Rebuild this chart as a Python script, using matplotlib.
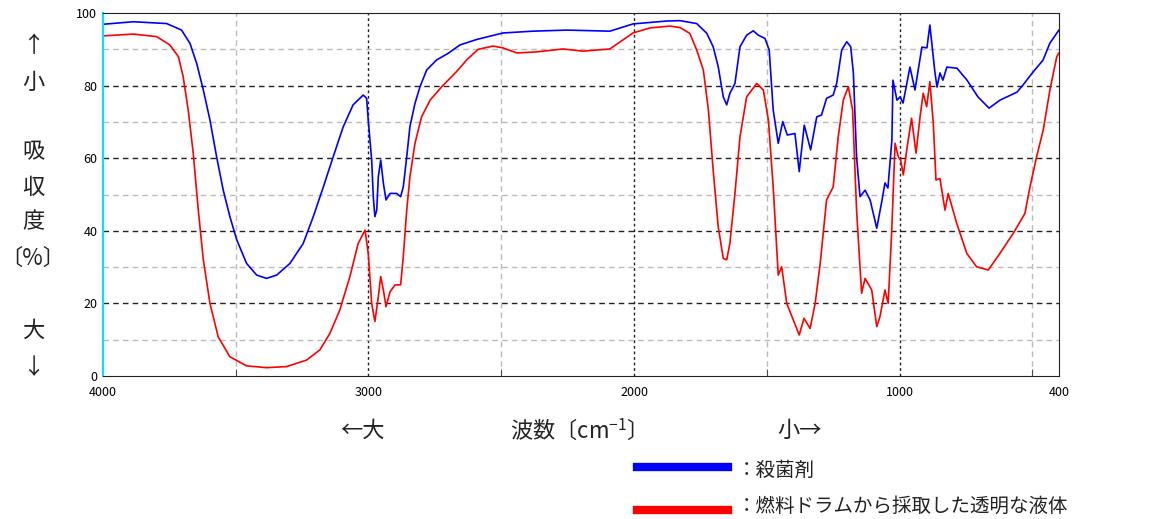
import matplotlib.pyplot as plt
from matplotlib.ticker import MultipleLocator

plt.rcParams['font.family'] = ['Noto Sans CJK JP', 'DejaVu Sans']

# 殺菌剤 (blue)
wn_blue = [4000, 3886, 3760, 3704, 3672, 3647, 3622, 3597, 3572, 3547, 3522, 3496, 3459, 3421, 3384,
           3346, 3296, 3246, 3208, 3170, 3133, 3095, 3058, 3020, 3007, 3001, 2988, 2982, 2976, 2969,
           2963, 2954, 2944, 2934, 2919, 2894, 2879, 2869, 2856, 2844, 2825, 2806, 2781, 2743, 2700,
           2656, 2593, 2494, 2381, 2253, 2091, 2004, 1876, 1827, 1764, 1726, 1702, 1683, 1664, 1651,
           1639, 1620, 1601, 1576, 1551, 1532, 1507, 1491, 1476, 1457, 1440, 1423, 1394, 1378, 1359,
           1335, 1312, 1294, 1275, 1250, 1237, 1218, 1199, 1184, 1174, 1162, 1149, 1130, 1111, 1086,
           1066, 1055, 1044, 1029, 1025, 1010, 998, 987, 961, 942, 916, 897, 886, 867, 859, 848, 837,
           822, 784, 746, 705, 663, 622, 558, 535, 498, 460, 434, 400]
ab_blue = [96.9, 97.6, 97.1, 95.3, 91.6, 86.1, 78.8, 70.5, 60.4, 51.2, 43.9, 37.5, 31.0, 27.8, 26.9,
           27.8, 31.0, 36.5, 43.9, 52.1, 60.4, 68.7, 74.7, 77.4, 76.5, 70.5, 59.5, 49.4, 43.9, 45.7,
           54.9, 59.5, 53.1, 48.5, 50.3, 50.3, 49.4, 52.1, 60.4, 68.7, 75.1, 79.7, 84.3, 87.1, 88.9,
           91.2, 92.7, 94.5, 95.0, 95.3, 95.0, 97.0, 97.8, 97.9, 97.1, 94.4, 90.7, 85.2, 76.9, 74.7,
           77.9, 80.6, 90.7, 93.9, 95.1, 93.9, 93.0, 89.8, 73.3, 64.1, 70.1, 66.4, 66.8, 56.3, 69.1,
           62.3, 71.4, 71.9, 76.5, 77.4, 80.6, 89.8, 92.1, 90.7, 83.4, 60.4, 49.4, 51.2, 48.5, 40.7,
           48.5, 53.2, 51.8, 65.0, 81.5, 76.0, 76.9, 75.2, 85.1, 78.8, 90.6, 90.4, 96.7, 83.7, 79.6,
           83.5, 81.5, 85.1, 84.8, 81.5, 76.9, 73.8, 76.0, 78.2, 80.2, 83.7, 87.0, 91.7, 95.3]

# 燃料ドラムから採取した透明な液体 (red)
wn_red = [4000, 3886, 3798, 3748, 3716, 3698, 3679, 3660, 3641, 3622, 3597, 3566, 3522, 3459, 3384,
          3308, 3233, 3183, 3145, 3108, 3070, 3039, 3013, 3001, 2988, 2976, 2963, 2954, 2944, 2934,
          2919, 2900, 2879, 2869, 2856, 2844, 2825, 2800, 2768, 2724, 2668, 2630, 2587, 2531, 2494,
          2441, 2366, 2268, 2192, 2091, 2004, 1940, 1865, 1827, 1790, 1764, 1739, 1720, 1702, 1683,
          1664, 1651, 1639, 1620, 1601, 1576, 1538, 1513, 1494, 1476, 1457, 1444, 1425, 1400, 1378,
          1360, 1337, 1318, 1299, 1275, 1250, 1231, 1212, 1193, 1177, 1162, 1143, 1130, 1105, 1086,
          1074, 1055, 1043, 1030, 1017, 1005, 996, 986, 973, 955, 938, 923, 911, 898, 886, 873, 863,
          848, 829, 817, 785, 747, 710, 666, 622, 572, 528, 509, 484, 459, 434, 408, 400]
ab_red = [93.7, 94.2, 93.5, 91.2, 88.0, 82.5, 73.3, 61.4, 45.7, 32.0, 20.0, 10.8, 5.3, 2.8, 2.3,
          2.6, 4.4, 7.2, 11.8, 18.2, 27.4, 36.5, 40.2, 33.8, 20.0, 15.0, 21.8, 27.4, 23.7, 19.1,
          23.2, 25.1, 25.1, 32.9, 45.7, 54.9, 64.1, 71.4, 76.0, 79.7, 83.9, 87.1, 90.0, 90.9, 90.4,
          89.0, 89.3, 90.1, 89.5, 90.1, 94.5, 95.9, 96.4, 96.0, 94.4, 89.8, 84.3, 73.3, 56.7, 41.1,
          32.4, 32.0, 36.6, 50.3, 65.9, 76.9, 80.6, 78.8, 70.5, 52.1, 27.8, 30.1, 20.0, 15.4, 11.3,
          15.9, 13.1, 20.0, 31.0, 48.5, 52.1, 65.9, 76.0, 79.7, 73.3, 45.7, 22.8, 26.9, 23.7, 13.6,
          16.3, 23.7, 20.0, 39.3, 64.1, 60.4, 59.5, 55.4, 62.3, 71.0, 61.4, 71.4, 77.9, 74.2, 81.1,
          69.6, 54.0, 54.4, 45.7, 50.3, 42.1, 33.8, 30.1, 29.2, 33.8, 39.3, 44.8, 52.1, 60.4, 67.8,
          78.8, 88.0, 89.0]

fig = plt.figure(figsize=(11.49, 5.19), dpi=100)
ax = fig.add_axes([0.0896, 0.2755, 0.832, 0.6994])

ax.plot(wn_blue, ab_blue, color='#0000ff', lw=1.2)
ax.plot(wn_red, ab_red, color='#ff0000', lw=1.2)

ax.set_xlim(4000, 400)
ax.set_ylim(0, 100)
ax.set_xticks([4000, 3000, 2000, 1000, 400])
ax.xaxis.set_minor_locator(MultipleLocator(500))
ax.set_yticks([0, 20, 40, 60, 80, 100])
ax.yaxis.set_minor_locator(MultipleLocator(10))
ax.tick_params(axis='both', which='both', labelsize=9, length=0, pad=4)
ax.tick_params(axis='x', which='major', pad=7)
ax.tick_params(axis='x', which='minor', direction='in', length=5, color='#333333')

# グリッド
for v in [3000, 2000, 1000]:
    ax.axvline(v, color='#222222', lw=1, ls=(0, (2, 2)), zorder=0)
for v in [3500, 2500, 1500, 500]:
    ax.axvline(v, color='#bbbbbb', lw=1, ls=(0, (4, 3)), zorder=0)
for v in [20, 40, 60, 80]:
    ax.axhline(v, color='#222222', lw=1, ls=(0, (4, 3)), zorder=0)
for v in [10, 30, 50, 70, 90]:
    ax.axhline(v, color='#bbbbbb', lw=1, ls=(0, (4, 3)), zorder=0)

ax.spines['left'].set_color('#00e5ff')
ax.spines['left'].set_linewidth(1.5)
for s in ['top', 'right', 'bottom']:
    ax.spines[s].set_color('#222222')

# 縦軸ラベル
ylab = [('↑', 45), ('小', 82), ('吸', 152), ('収', 187), ('度', 222), ('〔%〕', 258), ('大', 330), ('↓', 368)]
for t, py in ylab:
    fig.text(33 / 1149, 1 - py / 519, t, ha='center', va='center', fontsize=16, color='#222222')

# 横軸ラベル
fig.text(362 / 1149, 1 - 430 / 519, '←大', ha='center', va='center', fontsize=16, color='#222222')
fig.text(573 / 1149, 1 - 430 / 519, '波数〔cm$^{\\mathregular{-1}}$〕', ha='center', va='center', fontsize=16, color='#222222')
fig.text(800 / 1149, 1 - 430 / 519, '小→', ha='center', va='center', fontsize=16, color='#222222')

# 凡例
fig.add_artist(plt.Line2D([637 / 1149, 728 / 1149], [1 - 467 / 519] * 2, color='#0000ff', lw=6))
fig.add_artist(plt.Line2D([637 / 1149, 728 / 1149], [1 - 510 / 519] * 2, color='#ff0000', lw=6))
fig.text(737 / 1149, 1 - 470 / 519, '：殺菌剤', ha='left', va='center', fontsize=14, color='#222222')
fig.text(737 / 1149, 1 - 506 / 519, '：燃料ドラムから採取した透明な液体', ha='left', va='center', fontsize=14, color='#222222')

fig.savefig('out.png', dpi=100)
